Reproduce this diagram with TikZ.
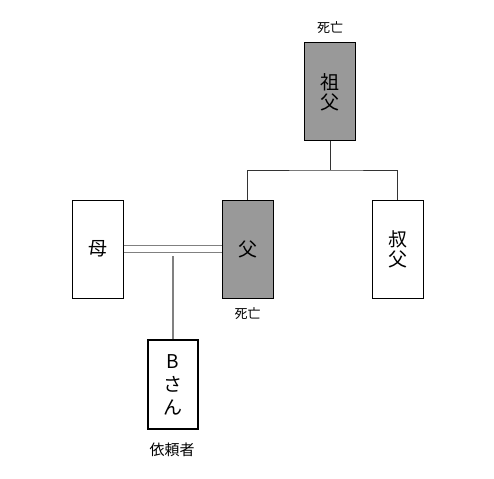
\documentclass[tikz,border=0pt]{standalone}
\usepackage{fontspec}
\newfontfamily\jp{Noto Sans CJK JP}
\begin{document}
\begin{tikzpicture}[x=1pt,y=-1pt,
  person/.style={draw=black, line width=1pt, minimum width=51pt, minimum height=98pt, inner sep=0pt, font=\jp\fontsize{19}{20}\selectfont, align=center},
  dead/.style={person, fill=black!40},
  lbl/.style={font=\jp\fontsize{13}{15}\selectfont, inner sep=0pt},
  tree/.style={line width=0.8pt, black!80},
  marr/.style={line width=1.6pt, black!50}]
\useasboundingbox (0,0) rectangle (494,478);
\node[dead] (gf) at (330,92) {祖\\父};
\node[lbl] (gfl) at (330,28) {死亡};
\node[dead] (fa) at (247.5,249) {父};
\node[lbl] (fal) at (247.5,314) {死亡};
\node[person] (mo) at (97.5,249) {母};
\node[person] (un) at (397.5,249) {叔\\父};
\node[person, line width=2.6pt, minimum width=50pt, minimum height=89pt, font=\jp\fontsize{19}{23}\selectfont] (b) at (173,384.5) {B\\さ\\ん};
\node[lbl, font=\jp\fontsize{15}{17}\selectfont] (bl) at (172,450) {依頼者};
\coordinate (j) at (330,170);
\draw[tree] (gf.south) -- (j);
\draw[tree] (fa.north) |- (j) -| (un.north);
\draw[marr] ([yshift=-3.5pt]mo.east) -- ([yshift=-3.5pt]fa.west);
\draw[marr] ([yshift=3.5pt]mo.east) -- ([yshift=3.5pt]fa.west);
\coordinate (c) at (173,256);
\draw[marr] (c) -- (b.north);
\end{tikzpicture}
\end{document}
